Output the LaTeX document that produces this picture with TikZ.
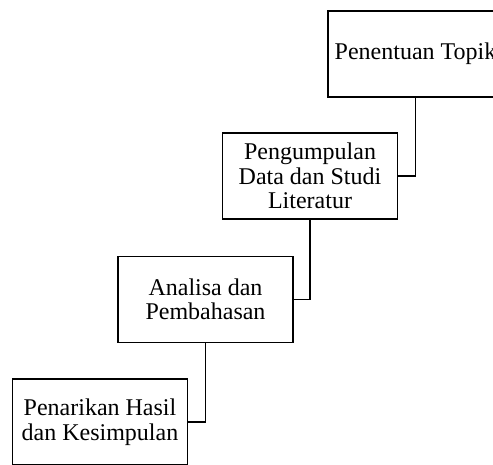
\documentclass[tikz,border=0pt]{standalone}
\usepackage{fontspec}
\setmainfont{Liberation Serif}
\usepackage{tikz}

\tikzset{
  tahap/.style={draw, line width=1.8pt, minimum width=175pt, minimum height=86pt,
    align=center, inner sep=4pt, font=\fontsize{24}{24.5}\selectfont},
  sambung/.style={line width=1.8pt}
}

\begin{document}
\begin{tikzpicture}[x=1pt,y=1pt]
\useasboundingbox (0,0) rectangle (493,464);
\clip (0,0) rectangle (493,464);

\node[tahap] (topik) at (415.5,410) {Penentuan Topik};
\node[tahap] (data) at (310,288) {Pengumpulan\\Data dan Studi\\Literatur};
\node[tahap] (analisa) at (205.5,164.5) {Analisa dan\\Pembahasan};
\node[tahap] (hasil) at (100,42) {Penarikan Hasil\\dan Kesimpulan};

\draw[sambung] (topik.south) |- (data.east);
\draw[sambung] (data.south) |- (analisa.east);
\draw[sambung] (analisa.south) |- (hasil.east);
\end{tikzpicture}
\end{document}
